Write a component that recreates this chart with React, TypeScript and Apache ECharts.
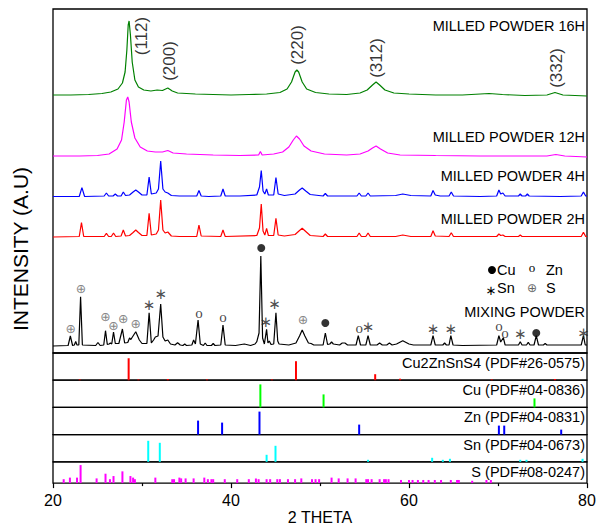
import React, { useEffect, useRef } from "react";
import * as echarts from "echarts";

// ---------------- data (2-theta, intensity in arbitrary stacked units) ----------------
const thetaRange = [20, 80];

const milled16h: [number, number][] = [
  [20, 258], [22, 258], [24, 258.5], [25.5, 259.5], [26.5, 261], [27.3, 264], [27.8, 270],
  [28.1, 281], [28.3, 303], [28.45, 328], [28.55, 332], [28.7, 318], [28.9, 291], [29.2, 273],
  [29.6, 266], [30.2, 263], [31, 262], [31.7, 263], [32.3, 262.5], [32.9, 265], [33.4, 262],
  [34, 260], [36, 259], [38, 258.5], [40, 258], [42, 258.5], [44, 259], [45.5, 260.5],
  [46.3, 264], [46.8, 271], [47.2, 281], [47.4, 283], [47.6, 281], [48.0, 271], [48.5, 264],
  [49.5, 260.5], [51, 259], [53, 258.5], [54.5, 260], [55.3, 263], [55.9, 268], [56.3, 271],
  [56.7, 268], [57.3, 263], [58.3, 260], [60, 259], [63, 258], [66, 258], [69, 259.5],
  [70.5, 258.5], [73, 257.5], [75.5, 258], [76.4, 260.5], [77.3, 258], [80, 257],
];

const milled12h: [number, number][] = [
  [20, 197], [23, 197], [25, 197.5], [26.3, 199], [27.2, 204], [27.7, 213], [28.0, 231],
  [28.25, 253], [28.4, 256], [28.55, 251], [28.8, 231], [29.2, 215], [29.8, 206], [30.6, 202],
  [31.5, 201], [32.3, 201], [32.9, 202.5], [33.5, 200], [35, 199], [38, 198], [41, 197.5],
  [43.1, 198], [43.3, 201.5], [43.5, 198], [44.8, 199], [45.8, 201], [46.5, 206], [47.0, 213],
  [47.35, 217], [47.7, 214], [48.2, 207], [49, 202], [50.5, 199], [53, 198], [54.5, 199],
  [55.4, 202], [55.9, 205], [56.3, 207], [56.8, 204], [57.6, 200], [59, 198], [63, 197.5],
  [68, 197], [72, 197], [75.5, 197], [76.5, 198.5], [77.5, 197], [80, 196],
];

const milled4h: [number, number][] = [
  [20, 156.5], [22.95, 156.5], [23.25, 165.3], [23.55, 156.5], [25.75, 157], [26.0, 160],
  [26.25, 157], [26.75, 157], [27.0, 159], [27.25, 157], [27.65, 157], [27.9, 161], [28.15, 157.5],
  [28.6, 158], [29.0, 161], [29.3, 163], [29.6, 161], [30.0, 158], [30.55, 158], [30.8, 176],
  [31.05, 159], [31.6, 160], [31.85, 164], [32.1, 192], [32.35, 164], [32.6, 161], [32.9, 160],
  [33.3, 157.5], [34.2, 157], [35.0, 157], [36.15, 157], [36.4, 162.5], [36.65, 157],
  [37.5, 156.5], [38.85, 157], [39.1, 164], [39.35, 157], [41, 157], [42.9, 158], [43.2, 166],
  [43.4, 182.5], [43.6, 162], [43.8, 159], [44.0, 164], [44.2, 158], [44.8, 158], [45.05, 175.5],
  [45.3, 159], [46, 157.5], [47.2, 159], [47.7, 163], [48.0, 165], [48.4, 162], [48.9, 158.5],
  [50.35, 157], [50.6, 159.5], [50.85, 157], [52.5, 157], [54.15, 157], [54.4, 160], [54.65, 157],
  [55.15, 157], [55.4, 160], [55.65, 157], [58.5, 157.5], [59.3, 159], [60.2, 157.5],
  [62.45, 157], [62.7, 162.5], [62.95, 158], [63.5, 157], [64.5, 157], [64.75, 161], [65.0, 157],
  [68, 156.5], [69.85, 157], [70.1, 163], [70.3, 159], [70.55, 160], [70.8, 157], [72.3, 157],
  [72.5, 159], [72.7, 157], [73.1, 157], [73.3, 159], [73.5, 157], [77, 156.5], [79.35, 157],
  [79.6, 161], [79.85, 157], [80, 157],
];

const milled2h: [number, number][] = [
  [20, 116], [22.95, 116.5], [23.2, 130.3], [23.45, 116.5], [25.75, 116.5], [26.0, 119.7],
  [26.25, 116.5], [26.55, 116.5], [26.8, 120], [27.05, 116.5], [27.65, 117], [27.9, 123],
  [28.15, 117], [28.6, 117.5], [29.0, 120.5], [29.3, 123], [29.6, 120.5], [30.0, 117.5],
  [30.55, 117.5], [30.8, 139.7], [31.05, 118], [31.6, 119], [31.85, 123], [32.1, 153],
  [32.35, 123], [32.6, 120], [32.9, 121], [33.3, 117], [34.2, 116.5], [36.15, 116.5], [36.4, 128],
  [36.65, 117], [38.85, 116.5], [39.1, 123], [39.35, 116.5], [42.9, 117.5], [43.2, 125],
  [43.4, 149], [43.6, 122], [43.8, 118], [44.0, 124.7], [44.2, 117.5], [44.8, 117.5],
  [45.05, 134.7], [45.3, 118], [46, 117], [47.2, 118.5], [47.7, 122.5], [48.0, 124.7],
  [48.4, 121.5], [48.9, 117.5], [50.35, 116.5], [50.6, 119], [50.85, 116.5], [54.15, 116.5],
  [54.4, 120], [54.65, 116.5], [55.15, 116.5], [55.4, 120], [55.65, 116.5], [58.5, 116.5],
  [59.3, 118], [60.2, 116.5], [62.45, 116.5], [62.7, 122.3], [62.95, 117], [64.5, 116.5],
  [64.75, 120.3], [65.0, 116.5], [69.85, 116.5], [70.1, 119], [70.3, 117.5], [70.55, 118],
  [70.8, 116.5], [72.3, 116.5], [72.5, 118], [72.7, 116.5], [79.35, 116.5], [79.6, 120.7],
  [79.85, 116.5], [80, 116.5],
];

const mixing: [number, number][] = [
  [20, 7], [21.7, 7.5], [21.95, 17], [22.2, 7.5], [22.4, 8], [22.55, 11.5], [22.7, 8], [22.9, 8],
  [23.1, 56.3], [23.3, 8], [24.8, 7.5], [25.05, 10.5], [25.3, 7.5], [25.7, 8], [25.9, 22.3],
  [26.1, 8.5], [26.3, 9], [26.45, 10], [26.6, 9], [26.8, 21], [27.0, 9.5], [27.4, 9.5], [27.8, 24],
  [28.05, 10], [28.4, 10.5], [28.6, 15], [28.75, 13.5], [28.85, 15], [29.3, 21.3], [29.7, 13],
  [30.0, 9.5], [30.55, 9.5], [30.8, 40.3], [31.05, 10], [31.3, 13], [31.5, 16], [31.8, 17],
  [32.1, 49], [32.35, 16], [32.6, 12], [32.9, 13], [33.2, 9], [33.7, 8], [34.0, 10.3], [34.3, 8],
  [34.6, 7.5], [34.8, 9], [35.0, 7.5], [35.6, 8], [35.8, 13], [36.0, 9], [36.3, 33], [36.55, 9],
  [36.9, 7.5], [37.1, 10], [37.3, 7.5], [37.8, 7.5], [38.0, 9.5], [38.2, 7.5], [38.85, 8],
  [39.1, 28], [39.35, 8], [40.5, 7.5], [41.5, 9], [42.2, 7.5], [42.7, 9], [42.9, 11.3],
  [43.15, 20], [43.35, 97], [43.55, 15], [43.75, 9], [44.0, 23.7], [44.15, 10], [44.3, 12],
  [44.5, 8.5], [44.8, 9], [45.05, 40.3], [45.25, 12], [45.4, 9], [46.5, 8], [47.3, 10], [47.7, 17],
  [48.0, 23], [48.3, 17], [48.7, 10], [49.0, 9.5], [49.3, 8], [50.35, 8], [50.6, 20], [50.85, 8.5],
  [51.1, 9], [51.3, 11], [51.5, 9], [52.2, 8], [52.5, 10], [52.8, 10], [53.1, 8], [54.05, 8],
  [54.3, 17.3], [54.55, 8], [55.15, 8], [55.4, 17.3], [55.65, 8], [56.4, 8], [56.7, 10], [57.0, 8],
  [57.5, 8], [57.8, 10], [58.1, 8], [58.6, 9], [59.3, 12.3], [60.0, 9], [60.5, 8], [62.45, 8],
  [62.7, 17.3], [62.95, 8], [63.8, 8], [64.0, 10], [64.2, 8], [64.5, 8], [64.7, 17.3], [64.95, 8],
  [66, 7.5], [69.85, 8], [70.1, 17.3], [70.3, 11], [70.6, 15.3], [70.8, 8], [72.3, 8], [72.5, 11.3],
  [72.7, 8], [73.2, 8], [73.4, 10.7], [73.6, 8], [74.05, 8], [74.3, 17.3], [74.55, 8], [75.1, 8],
  [75.3, 9.5], [75.5, 8], [79.35, 8], [79.6, 17.3], [79.8, 8], [80, 8],
];

// reference patterns (2-theta, relative stick height)
const refCZTS: [number, number][] = [
  [23.0, 0.8], [28.5, 22], [29.6, 0.8], [32.9, 1.2], [37.3, 0.8], [44.6, 0.8], [47.3, 19],
  [56.2, 6], [59.0, 1.5], [69.3, 0.8], [76.4, 1.2],
];
const refCu: [number, number][] = [[43.3, 23], [50.4, 13], [74.1, 9]];
const refZn: [number, number][] = [
  [36.3, 14], [39.0, 12], [43.2, 23], [54.4, 10], [70.1, 9], [70.7, 9], [77.1, 5],
];
const refSn: [number, number][] = [
  [30.7, 21], [32.0, 19], [44.0, 7], [45.0, 16], [55.4, 2], [62.6, 4], [63.8, 2], [64.6, 3],
  [72.5, 2], [73.2, 2], [79.5, 3],
];
const refS: [number, number][] = [
  [21.2, 5], [21.9, 7], [22.7, 7], [23.1, 23], [24.9, 6], [25.9, 12], [26.4, 5], [26.8, 9],
  [27.8, 15], [28.7, 9], [29.0, 7], [29.2, 5], [31.5, 7], [33.4, 5], [33.6, 5], [34.2, 7],
  [34.4, 6], [34.9, 6], [35.8, 6], [37.0, 7], [37.4, 5], [37.8, 5], [38.0, 5], [39.3, 5],
  [40.7, 5], [42.0, 5], [42.8, 6], [43.1, 5], [44.0, 5], [44.4, 5], [45.2, 5], [45.5, 5],
  [46.4, 5], [47.2, 5], [47.9, 6], [49.1, 5], [49.5, 5], [49.9, 5], [51.3, 7], [52.1, 6],
  [53.1, 6], [54.0, 6], [55.2, 5], [55.4, 5], [55.8, 5], [56.7, 5], [57.2, 5], [57.4, 5],
  [57.7, 5], [59.1, 4], [60.0, 4], [60.4, 4], [61.0, 4], [61.6, 4], [62.2, 4], [62.9, 4],
  [63.6, 4], [64.7, 4], [65.4, 4], [65.6, 4], [67.1, 3], [68.7, 4], [69.2, 4],
];

// phase markers on the mixing-powder pattern
const markS: [number, number][] = [
  [22.0, 25], [23.15, 65], [25.9, 37], [26.8, 28], [27.9, 35], [29.3, 30], [48.1, 34],
];
const markSn: [number, number][] = [
  [30.8, 48], [32.1, 59], [43.9, 31], [44.9, 49], [55.4, 26], [62.7, 24], [64.7, 24], [72.5, 19],
  [79.6, 20],
];
const markZn: [number, number][] = [[36.4, 40], [39.1, 36], [54.4, 25], [70.1, 27], [70.8, 20]];
const markCu: [number, number][] = [[43.4, 105], [50.6, 30], [74.3, 20]];

// Miller indices on the 16H pattern
const hklLabels = ["(112)", "(200)", "(220)", "(312)", "(332)"];
const hklPos: [number, number][] = [[29.9, 317], [33.1, 292], [47.5, 308], [56.3, 295], [76.6, 285]];

const curveNames = ["MILLED POWDER 16H", "MILLED POWDER 12H", "MILLED POWDER 4H", "MILLED POWDER 2H", "MIXING POWDER"];
const refNames = [
  "Cu2ZnSnS4 (PDF#26-0575)",
  "Cu (PDF#04-0836)",
  "Zn (PDF#04-0831)",
  "Sn (PDF#04-0673)",
  "S (PDF#08-0247)",
];

// ---------------- layout / style ----------------
const FONT = '"Liberation Sans", Arial, Helvetica, sans-serif';
const PLOT_LEFT = 53;
const PLOT_W = 534;
const MAIN_TOP = 9;
const MAIN_H = 344;
const PANEL_H = 27.2;
const RIGHT_X = 585;

const curveColors = ["#008000", "#ff00ff", "#0000ff", "#ff0000", "#000000"];
const refColors = ["#ff0000", "#00ff00", "#0000ff", "#00ffff", "#ff00ff"];
const curveLabelY = [26, 137, 176, 219, 312];

function buildOption() {
  const curves = [milled16h, milled12h, milled4h, milled2h, mixing];
  const refs = [refCZTS, refCu, refZn, refSn, refS];

  const grids: any[] = [
    { left: PLOT_LEFT, top: MAIN_TOP, width: PLOT_W, height: MAIN_H, show: true, borderColor: "#000", borderWidth: 1.3, backgroundColor: "transparent" },
  ];
  for (let i = 0; i < 5; i++) {
    grids.push({
      left: PLOT_LEFT, top: MAIN_TOP + MAIN_H + i * PANEL_H, width: PLOT_W, height: PANEL_H,
      show: true, borderColor: "#000", borderWidth: 1.3, backgroundColor: "transparent",
    });
  }

  const xAxes: any[] = grids.map((_, i) => ({
    type: "value",
    gridIndex: i,
    min: thetaRange[0],
    max: thetaRange[1],
    interval: 20,
    show: i === 5,
    axisLine: { show: false },
    splitLine: { show: false },
    axisTick: { show: true, inside: false, length: 5, lineStyle: { color: "#000", width: 1.2 } },
    minorTick: { show: true, splitNumber: 2, length: 3, lineStyle: { color: "#000", width: 1.2 } },
    axisLabel: { fontSize: 16, color: "#000", margin: 9, fontFamily: FONT },
    name: i === 5 ? "2 THETA" : "",
    nameLocation: "middle",
    nameGap: 21,
    nameTextStyle: { fontSize: 16, color: "#000", fontFamily: FONT },
  }));

  const yAxes: any[] = grids.map((_, i) => ({
    type: "value",
    gridIndex: i,
    min: 0,
    max: i === 0 ? MAIN_H : PANEL_H,
    show: false,
  }));

  const series: any[] = [];
  curves.forEach((d, i) => {
    series.push({
      type: "line",
      name: curveNames[i],
      xAxisIndex: 0,
      yAxisIndex: 0,
      data: d,
      symbol: "none",
      showSymbol: false,
      lineStyle: { color: curveColors[i], width: 1.2 },
      z: 3,
    });
  });
  refs.forEach((d, i) => {
    series.push({
      type: "bar",
      name: refNames[i],
      xAxisIndex: i + 1,
      yAxisIndex: i + 1,
      data: d,
      barWidth: 2,
      itemStyle: { color: refColors[i] },
    });
  });

  const textMarker = (data: [number, number][], text: string, font: string, size: number, color: string, weight = "normal") => ({
    type: "scatter",
    xAxisIndex: 0,
    yAxisIndex: 0,
    data,
    symbol: "circle",
    symbolSize: 1,
    itemStyle: { color: "rgba(0,0,0,0)" },
    label: {
      show: true,
      position: "inside",
      formatter: () => text,
      fontSize: size,
      fontFamily: font,
      fontWeight: weight,
      lineHeight: Math.round(size * 0.75),
      color,
    },
    z: 5,
  });
  series.push(textMarker(markS, "⊕", '"DejaVu Sans", sans-serif', 12.5, "#666"));
  series.push(textMarker(markSn, "∗", '"DejaVu Sans", sans-serif', 15, "#222"));
  series.push(textMarker(markZn, "o", '"Liberation Serif", serif', 15, "#111"));
  series.push({
    type: "scatter",
    xAxisIndex: 0,
    yAxisIndex: 0,
    data: markCu,
    symbol: "circle",
    symbolSize: 8,
    itemStyle: { color: "#000" },
    z: 5,
  });
  series.push({
    type: "scatter",
    xAxisIndex: 0,
    yAxisIndex: 0,
    data: hklPos.map((p, i) => ({ value: p, name: hklLabels[i] })),
    symbol: "circle",
    symbolSize: 1,
    itemStyle: { color: "rgba(0,0,0,0)" },
    label: {
      show: true,
      position: "inside",
      rotate: 90,
      formatter: "{b}",
      fontSize: 17,
      fontFamily: FONT,
      color: "#000",
    },
    z: 5,
  });

  const txt = (x: number, y: number, text: string, size: number, align = "right", extra: any = {}) => ({
    type: "text",
    x,
    y,
    silent: true,
    style: {
      text,
      fill: "#000",
      fontSize: size,
      fontFamily: FONT,
      align,
      verticalAlign: "middle",
      textAlign: align,
      textVerticalAlign: "middle",
      ...extra,
    },
  });

  const graphics: any[] = [];
  curveNames.forEach((n, i) => graphics.push(txt(RIGHT_X, curveLabelY[i], n, 14.5)));
  refNames.forEach((n, i) =>
    graphics.push(txt(RIGHT_X, MAIN_TOP + MAIN_H + i * PANEL_H + 10, n, 14.5))
  );
  // legend of phase markers
  graphics.push({ type: "circle", silent: true, shape: { cx: 492, cy: 270, r: 4 }, style: { fill: "#000" } });
  graphics.push(txt(497, 270, "Cu", 14.5, "left"));
  graphics.push(txt(532, 267, "o", 13, "center", { fontFamily: '"Liberation Serif", serif' }));
  graphics.push(txt(546, 270, "Zn", 14.5, "left"));
  graphics.push(txt(491, 290, "∗", 13, "center", { fontFamily: '"DejaVu Sans", sans-serif' }));
  graphics.push(txt(497, 288, "Sn", 14.5, "left"));
  graphics.push(txt(532, 288, "⊕", 12, "center", { fontFamily: '"DejaVu Sans", sans-serif', fill: "#666" }));
  graphics.push(txt(546, 288, "S", 14.5, "left"));
  // y axis title
  graphics.push({
    type: "text",
    x: 20,
    y: 249,
    rotation: Math.PI / 2,
    silent: true,
    style: {
      text: "INTENSITY (A.U)",
      fill: "#000",
      fontSize: 21,
      fontFamily: FONT,
      align: "center",
      verticalAlign: "middle",
      textAlign: "center",
      textVerticalAlign: "middle",
    },
  });

  return {
    animation: false,
    backgroundColor: "#fff",
    grid: grids,
    xAxis: xAxes,
    yAxis: yAxes,
    series,
    graphic: graphics,
  };
}

export default function App() {
  const ref = useRef<HTMLDivElement>(null);
  useEffect(() => {
    if (!ref.current) return;
    const chart = echarts.init(ref.current, null, { renderer: "svg" });
    chart.setOption(buildOption() as any);
    return () => chart.dispose();
  }, []);
  return (
    <div
      ref={ref}
      style={{ position: "fixed", left: 0, top: 0, width: 599, height: 526, background: "#fff" }}
    />
  );
}
